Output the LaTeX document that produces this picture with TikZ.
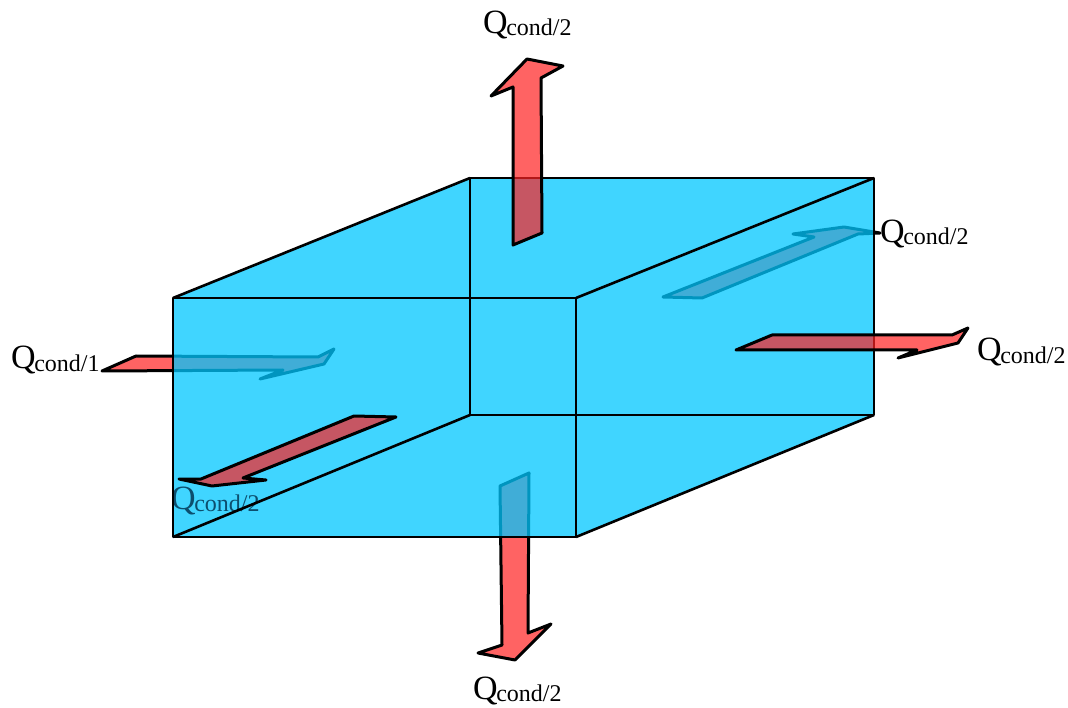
\documentclass[tikz,border=0pt]{standalone}
\usepackage{fontspec}
\setmainfont{Liberation Serif}
\definecolor{cubeblue}{RGB}{0,199,255}
\definecolor{arrowred}{RGB}{255,33,33}
\definecolor{duskQ}{RGB}{12,78,110}
\newcommand{\qlab}[1]{{\fontsize{34}{34}\selectfont Q}\kern-1.5pt\raisebox{-2pt}{\fontsize{24}{24}\selectfont cond/#1}}
\tikzset{
  flux/.style={draw=black,line width=3pt,line join=round,fill=arrowred,fill opacity=.7,draw opacity=1},
  cubebody/.style={fill=cubeblue,fill opacity=.75},
  cubeedge/.style={draw=black,line width=2.6pt,line join=round},
  qtext/.style={inner sep=0pt,anchor=base west,text=black}
}
\begin{document}
\begin{tikzpicture}[x=1pt,y=-1pt]
\useasboundingbox (0,0) rectangle (1068,708);
\fill[white] (0,0) rectangle (1068,708);
% corners of the box
\coordinate (fa) at (173,298);
\coordinate (fb) at (576,298);
\coordinate (fc) at (576,537);
\coordinate (fd) at (173,537);
\coordinate (ba) at (470,178);
\coordinate (bb) at (874,178);
\coordinate (bc) at (874,415);
\coordinate (bd) at (470,415);
% arrows seen through the box
\draw[flux] (102,371) -- (136,356) -- (318,357) -- (334,349) -- (324,364) -- (260,379) -- (283,370) -- cycle;
\draw[flux] (663,297) -- (702,298) -- (858,234) -- (880,233) -- (844,227) -- (793,234) -- (814,237) -- cycle;
\draw[flux] (500,486) -- (529,473) -- (528,633) -- (551,624) -- (515,660) -- (478,653) -- (502,645) -- cycle;
% box
\fill[cubebody] (fa) -- (ba) -- (bb) -- (bc) -- (fc) -- (fd) -- cycle;
\node[qtext,text=duskQ] (qfront) at (171,509) {\qlab{2}};
\draw[cubeedge] (fa) -- (fb) -- (fc) -- (fd) -- cycle;
\draw[cubeedge] (ba) -- (bb) -- (bc) -- (bd) -- cycle;
\draw[cubeedge] (fa) -- (ba) (fb) -- (bb) (fc) -- (bc) (fd) -- (bd);
% arrows in front of the box
\draw[flux] (513,245) -- (542,233) -- (541,78) -- (563,66) -- (527,59) -- (491,96) -- (513,87) -- cycle;
\draw[flux] (736,350) -- (772,335) -- (952,335) -- (968,328) -- (958,343) -- (898,358) -- (917,350) -- cycle;
\draw[flux] (396,417) -- (354,416) -- (201,479) -- (179,479) -- (212,486) -- (266,480) -- (243,478) -- cycle;
% labels
\node[qtext] (qtop) at (483,34) {\qlab{2}};
\node[qtext] (qback) at (880,243) {\qlab{2}};
\node[qtext] (qright) at (977,361) {\qlab{2}};
\node[qtext] (qleft) at (11,369) {\qlab{1}};
\node[qtext] (qbottom) at (473,699) {\qlab{2}};
\end{tikzpicture}
\end{document}
